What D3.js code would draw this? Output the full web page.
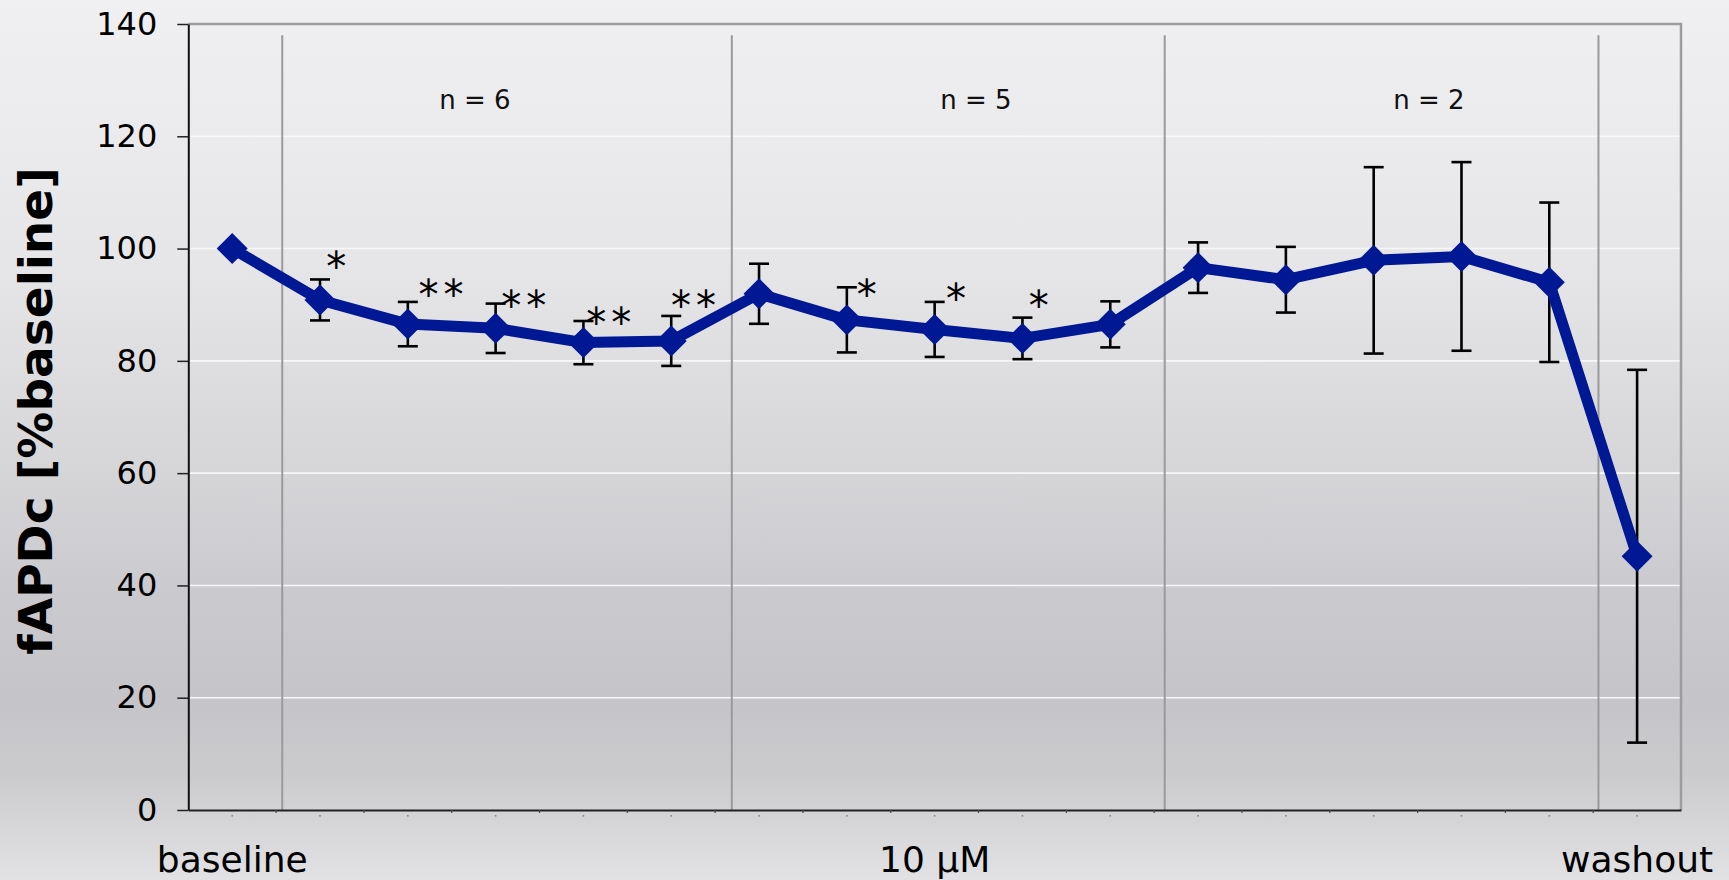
<!DOCTYPE html>
<html>
<head>
<meta charset="utf-8">
<script src="https://cdn.jsdelivr.net/npm/d3@7"></script>
<style>
  html, body { margin: 0; padding: 0; overflow: hidden; background: #e6e6e8; }
  svg { display: block; }
  text { font-family: "DejaVu Sans", Verdana, sans-serif; }
</style>
</head>
<body>
<svg id="chart" width="1729" height="880"></svg>
<script>
// Time course of fAPDc, normalised to baseline (mean ± error)
const categories = ["baseline", "", "", "", "", "", "", "", "10 µM", "", "", "", "", "", "", "", "washout"];
const meanValues = [100, 90.85, 86.55, 85.8, 83.25, 83.55, 91.95, 87.3, 85.6, 84.0, 86.5, 96.6, 94.45, 97.9, 98.6, 94.0, 45.2];
const errorValues = [0, 3.65, 3.95, 4.4, 3.85, 4.45, 5.35, 5.8, 4.9, 3.7, 4.1, 4.5, 5.85, 16.6, 16.8, 14.2, 33.2];
const yTicks = [0, 20, 40, 60, 80, 100, 120, 140];

// significance marks: label, anchor (category units) and level (axis units)
const sigLabels = ["*", "**", "**", "**", "**", "*", "*", "*"];
const sigAnchor = [1.686, 2.878, 3.821, 4.788, 5.755, 7.727, 8.744, 9.686];
const sigLevels = [98.3, 93.3, 91.4, 88.3, 91.4, 93.3, 92.6, 91.4];

// protocol phase dividers (category units) and group sizes
const phaseBreaks = [1.07, 6.19, 11.12, 16.06];
const groupLabels = ["n = 6", "n = 5", "n = 2"];
const groupAnchor = [3.265, 8.97, 14.13];

const W = 1729, H = 880;
const plot = { left: 188.3, right: 1681, top: 24, bottom: 810 };

const svg = d3.select("#chart");

// page background
const defs = svg.append("defs");
const grad = defs.append("linearGradient").attr("id", "bg")
  .attr("x1", 0).attr("y1", 0).attr("x2", 0).attr("y2", 1);
[[0, "#f0f0f2"], [0.3, "#e6e5e8"], [0.5, "#d8d7da"], [0.68, "#cac9cd"],
 [0.8, "#c5c4c8"], [0.88, "#cbcacd"], [0.94, "#d6d5d8"], [1, "#e2e2e4"]]
  .forEach(([o, c]) => grad.append("stop").attr("offset", o).attr("stop-color", c));
svg.append("rect").attr("width", W).attr("height", H).attr("fill", "url(#bg)");

const x = d3.scaleBand().domain(d3.range(categories.length))
  .range([plot.left, plot.right]).padding(0);
const xu = d3.scaleLinear().domain([0, categories.length]).range([plot.left, plot.right]);
const y = d3.scaleLinear().domain([0, 140]).range([plot.bottom, plot.top]);
const cx = i => x(i) + x.bandwidth() / 2;

// horizontal gridlines
svg.append("g").selectAll("line")
  .data(yTicks.filter(v => v > 0 && v < 140))
  .join("line")
  .attr("x1", plot.left).attr("x2", plot.right)
  .attr("y1", d => y(d)).attr("y2", d => y(d))
  .attr("stroke", "#f7f7f9").attr("stroke-width", 1.6);

// phase dividers
svg.append("g").selectAll("line")
  .data(phaseBreaks)
  .join("line")
  .attr("x1", d => xu(d)).attr("x2", d => xu(d))
  .attr("y1", y(138)).attr("y2", y(0))
  .attr("stroke", "#9a9a9c").attr("stroke-width", 2);

// plot frame (top and right)
svg.append("path")
  .attr("d", `M${plot.left},${y(140)}H${plot.right}V${y(0)}`)
  .attr("fill", "none").attr("stroke", "#9c9c9e").attr("stroke-width", 2.5);

// group size labels
svg.append("g").selectAll("text")
  .data(groupLabels)
  .join("text")
  .attr("x", (d, i) => xu(groupAnchor[i]))
  .attr("y", y(124.9))
  .attr("text-anchor", "middle")
  .attr("font-size", 26)
  .attr("fill", "#111")
  .text(d => d);

// y axis
const yAxis = svg.append("g")
  .attr("transform", `translate(${plot.left},0)`)
  .call(d3.axisLeft(y).tickValues(yTicks).tickSize(11).tickSizeOuter(0).tickPadding(20));
yAxis.select(".domain").attr("stroke", "#111").attr("stroke-width", 2);
yAxis.selectAll(".tick line").attr("stroke", "#222").attr("stroke-width", 1.5);
yAxis.selectAll(".tick text")
  .attr("font-size", 32).attr("font-family", "DejaVu Sans, Verdana, sans-serif")
  .attr("fill", "#000");

// x axis
const xAxis = svg.append("g")
  .attr("transform", `translate(0,${plot.bottom})`)
  .call(d3.axisBottom(x).tickFormat(i => categories[i]).tickSize(0).tickSizeOuter(0).tickPadding(36));
xAxis.select(".domain").attr("stroke", "#222").attr("stroke-width", 2.2);
xAxis.selectAll(".tick text")
  .attr("font-size", 36).attr("font-family", "DejaVu Sans, Verdana, sans-serif")
  .attr("fill", "#000");

// minor ticks between categories
svg.append("g").selectAll("line")
  .data(d3.range(1, categories.length))
  .join("line")
  .attr("x1", d => xu(d)).attr("x2", d => xu(d))
  .attr("y1", plot.bottom).attr("y2", plot.bottom + 3)
  .attr("stroke", "#444").attr("stroke-width", 1.2);

// small category markers under the axis
svg.append("g").selectAll("rect")
  .data(d3.range(categories.length))
  .join("rect")
  .attr("x", d => cx(d) - 0.8).attr("y", plot.bottom + 5)
  .attr("width", 1.6).attr("height", 1.6)
  .attr("fill", "#8a8a8c");

// axis title
svg.append("text")
  .attr("transform", `translate(52,${411}) rotate(-90)`)
  .attr("text-anchor", "middle")
  .attr("font-size", 47).attr("font-weight", "bold")
  .attr("fill", "#000")
  .text("fAPDc [%baseline]");

// error bars
const eb = svg.append("g").attr("stroke", "#000").attr("stroke-width", 2.6);
const capW = 10;
meanValues.forEach((m, i) => {
  const e = errorValues[i];
  if (!e) return;
  const g = eb.append("g");
  g.append("line").attr("x1", cx(i)).attr("x2", cx(i)).attr("y1", y(m + e)).attr("y2", y(m - e));
  g.append("line").attr("x1", cx(i) - capW).attr("x2", cx(i) + capW).attr("y1", y(m + e)).attr("y2", y(m + e));
  g.append("line").attr("x1", cx(i) - capW).attr("x2", cx(i) + capW).attr("y1", y(m - e)).attr("y2", y(m - e));
});

// mean line
const blue = "#001893";
svg.append("path")
  .datum(meanValues)
  .attr("d", d3.line().x((d, i) => cx(i)).y(d => y(d)))
  .attr("fill", "none").attr("stroke", blue).attr("stroke-width", 11)
  .attr("stroke-linejoin", "round");

// diamond markers
const diamond = d3.symbol().type(d3.symbolSquare).size(480);
svg.append("g").selectAll("path")
  .data(meanValues)
  .join("path")
  .attr("transform", (d, i) => `translate(${cx(i)},${y(d)}) rotate(45)`)
  .attr("d", diamond)
  .attr("fill", blue);

// significance marks
const sigSize = 40, sigSpacing = 5;
svg.append("g").selectAll("text")
  .data(sigLabels)
  .join("text")
  .attr("x", (d, i) => xu(sigAnchor[i]) + sigSpacing / 2)
  .attr("y", (d, i) => y(sigLevels[i]) + 0.58 * sigSize)
  .attr("text-anchor", "middle")
  .attr("font-size", sigSize)
  .attr("letter-spacing", sigSpacing)
  .attr("fill", "#000")
  .text(d => d);
</script>
</body>
</html>
